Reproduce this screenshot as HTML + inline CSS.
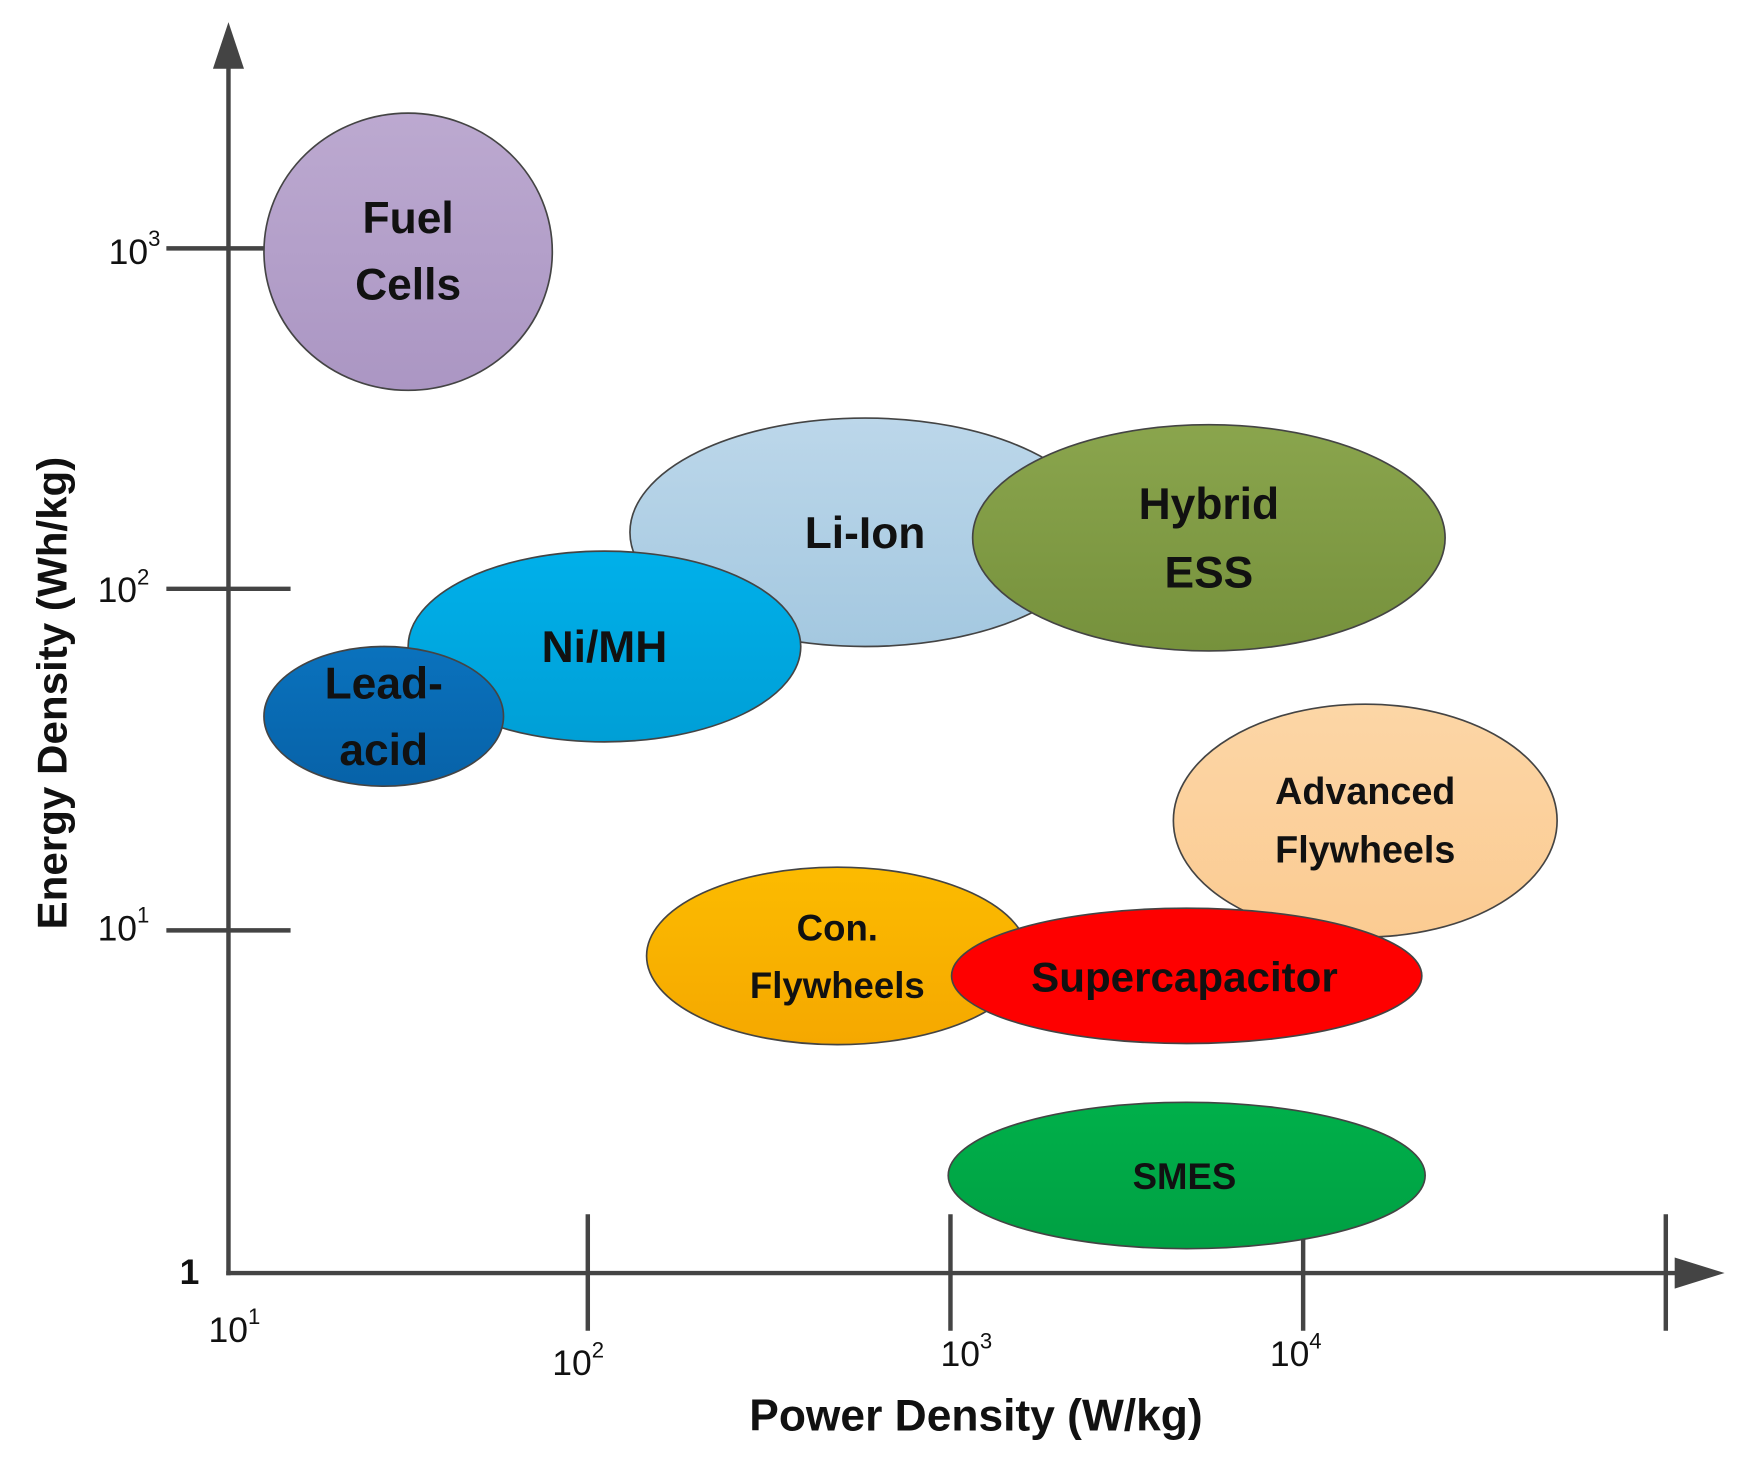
<!DOCTYPE html>
<html><head><meta charset="utf-8"><style>html,body{margin:0;padding:0;background:#fff}svg{display:block}</style></head>
<body>
<svg width="1739" height="1466" viewBox="0 0 1568 1322" preserveAspectRatio="none" xmlns="http://www.w3.org/2000/svg" font-family="'Liberation Sans', sans-serif" font-weight="bold">
<defs>
<linearGradient id="fc" x1="0" y1="0" x2="0" y2="1"><stop offset="0" stop-color="#bca9d0"/><stop offset="1" stop-color="#ab96c3"/></linearGradient>
<linearGradient id="li" x1="0" y1="0" x2="0" y2="1"><stop offset="0" stop-color="#bcd7ea"/><stop offset="1" stop-color="#a4c8e0"/></linearGradient>
<linearGradient id="hy" x1="0" y1="0" x2="0" y2="1"><stop offset="0" stop-color="#8aa54d"/><stop offset="1" stop-color="#76913c"/></linearGradient>
<linearGradient id="ni" x1="0" y1="0" x2="0" y2="1"><stop offset="0" stop-color="#00b0ea"/><stop offset="1" stop-color="#009fd6"/></linearGradient>
<linearGradient id="la" x1="0" y1="0" x2="0" y2="1"><stop offset="0" stop-color="#0a72bd"/><stop offset="1" stop-color="#0762a8"/></linearGradient>
<linearGradient id="ad" x1="0" y1="0" x2="0" y2="1"><stop offset="0" stop-color="#fcd6a6"/><stop offset="1" stop-color="#fbcb92"/></linearGradient>
<linearGradient id="cf" x1="0" y1="0" x2="0" y2="1"><stop offset="0" stop-color="#fcbb00"/><stop offset="1" stop-color="#f5a800"/></linearGradient>
<linearGradient id="sm" x1="0" y1="0" x2="0" y2="1"><stop offset="0" stop-color="#00b04a"/><stop offset="1" stop-color="#00a043"/></linearGradient>
</defs>
<g stroke="#444" stroke-width="4" fill="none">
<line x1="206" y1="55" x2="206" y2="1150"/>
<line x1="204" y1="1148" x2="1515" y2="1148"/>
<line x1="150" y1="224" x2="240" y2="224"/>
<line x1="150" y1="531" x2="262" y2="531"/>
<line x1="150" y1="839" x2="262" y2="839"/>
<line x1="530" y1="1095" x2="530" y2="1200"/>
<line x1="857" y1="1095" x2="857" y2="1200"/>
<line x1="1175" y1="1110" x2="1175" y2="1200"/>
<line x1="1502" y1="1095" x2="1502" y2="1200"/>
</g>
<polygon points="206,20 192,62 220,62" fill="#444"/>
<polygon points="1555,1148 1510,1134 1510,1162" fill="#444"/>
<g stroke="#444" stroke-width="1.5">
<ellipse cx="368" cy="227" rx="130" ry="125" fill="url(#fc)"/>
<ellipse cx="780" cy="480" rx="212" ry="103" fill="url(#li)"/>
<ellipse cx="1090" cy="485" rx="213" ry="102" fill="url(#hy)"/>
<ellipse cx="545" cy="583" rx="177" ry="86" fill="url(#ni)"/>
<ellipse cx="346" cy="646" rx="108" ry="63" fill="url(#la)"/>
<ellipse cx="1231" cy="740" rx="173" ry="105" fill="url(#ad)"/>
<ellipse cx="755" cy="862" rx="172" ry="80" fill="url(#cf)"/>
<ellipse cx="1070" cy="880" rx="212" ry="61" fill="#fe0000"/>
<ellipse cx="1070" cy="1060" rx="215" ry="66" fill="url(#sm)"/>
</g>
<g fill="#111" text-anchor="middle" font-size="40">
<text x="368" y="210">Fuel</text><text x="368" y="270">Cells</text>
<text x="780" y="494">Li-Ion</text>
<text x="1090" y="468">Hybrid</text><text x="1090" y="530">ESS</text>
<text x="545" y="597">Ni/MH</text>
<text x="346" y="630">Lead-</text><text x="346" y="690">acid</text>
<text x="1231" y="725" font-size="34">Advanced</text><text x="1231" y="778" font-size="34">Flywheels</text>
<text x="755" y="848" font-size="33">Con.</text><text x="755" y="900" font-size="33">Flywheels</text>
<text x="1068" y="894" font-size="38">Supercapacitor</text>
<text x="1068" y="1072" font-size="33">SMES</text>
</g>
<g fill="#111" font-weight="normal" font-size="32">
<text x="98" y="238">10<tspan font-size="20" dy="-16">3</tspan></text>
<text x="88" y="543">10<tspan font-size="20" dy="-16">2</tspan></text>
<text x="88" y="848">10<tspan font-size="20" dy="-16">1</tspan></text>
<text x="162" y="1158" font-weight="bold">1</text>
<text x="188" y="1210">10<tspan font-size="20" dy="-16">1</tspan></text>
<text x="498" y="1240">10<tspan font-size="20" dy="-16">2</tspan></text>
<text x="848" y="1232">10<tspan font-size="20" dy="-16">3</tspan></text>
<text x="1145" y="1232">10<tspan font-size="20" dy="-16">4</tspan></text>
</g>
<text x="880" y="1290" text-anchor="middle" font-size="40" fill="#111">Power Density (W/kg)</text>
<text transform="translate(60,625) rotate(-90)" text-anchor="middle" font-size="38" fill="#111">Energy Density (Wh/kg)</text>
</svg>
</body></html>
